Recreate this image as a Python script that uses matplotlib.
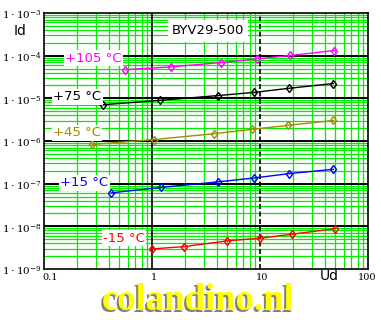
import matplotlib
matplotlib.use("Agg")
import matplotlib.pyplot as plt
import numpy as np

# Data (Ud in V, Id in A)
ud_105 = [0.56, 1.5, 4.35, 9.3, 19.1, 48.7]
id_105 = [4.7e-5, 5.45e-5, 6.9e-5, 8.4e-5, 1.01e-4, 1.32e-4]
ud_75 = [0.354, 1.19, 4.06, 8.86, 18.6, 47.7]
id_75 = [7.1e-6, 8.97e-6, 1.16e-5, 1.38e-5, 1.72e-5, 2.22e-5]
ud_45 = [0.28, 1.04, 3.75, 8.4, 18.0, 47.7]
id_45 = [8.3e-7, 1.08e-6, 1.48e-6, 1.87e-6, 2.32e-6, 3.03e-6]
ud_15 = [0.42, 1.22, 4.06, 8.86, 18.6, 47.7]
id_15 = [6.1e-8, 8.2e-8, 1.1e-7, 1.36e-7, 1.72e-7, 2.17e-7]
ud_m15 = [1.0, 1.99, 4.98, 10.1, 19.9, 49.8]
id_m15 = [2.96e-9, 3.35e-9, 4.56e-9, 5.28e-9, 6.55e-9, 8.87e-9]

series_labels = ["+105 °C", "+75 °C", "+45 °C", "+15 °C", "-15 °C"]
series_colors = ["#ff00ff", "#000000", "#a08c00", "#0000ff", "#ff0000"]

xtick_vals = [0.1, 1, 10, 100]
xtick_labels = ["0.1", "1", "10", "100"]
ytick_exps = [-3, -4, -5, -6, -7, -8, -9]

W, H = 381, 320
fig = plt.figure(figsize=(W / 100, H / 100), dpi=100)
fig.patch.set_facecolor("white")
ax = fig.add_axes([44 / W, 1 - 269 / H, (368 - 44) / W, (269 - 13) / H])
ax.set_xscale("log")
ax.set_yscale("log")
ax.set_xlim(0.1, 100)
ax.set_ylim(1e-9, 1e-3)

green = "#00ee00"
# minor grid
for d in [0.1, 1, 10]:
    for m in range(2, 10):
        ax.axvline(d * m, color=green, lw=0.9, zorder=1)
for e in range(-9, -3):
    for m in range(2, 10):
        ax.axhline(m * 10.0 ** e, color=green, lw=0.9, zorder=1)
# major grid
for e in range(-8, -3):
    ax.axhline(10.0 ** e, color="black", lw=1.4, zorder=2)
ax.axvline(1, color="black", lw=1.2, zorder=2)
ax.axvline(10, color="black", lw=1.2, ls=(0, (3, 1.5)), zorder=2)

for sp in ax.spines.values():
    sp.set_color("black")
    sp.set_linewidth(1.2)
    sp.set_zorder(5)

data = [(ud_105, id_105), (ud_75, id_75), (ud_45, id_45), (ud_15, id_15), (ud_m15, id_m15)]
for (x, y), c in zip(data, series_colors):
    ax.plot(x, y, color=c, lw=1.0, marker="d", ms=4.5, mfc="none", mec=c, mew=1.0, zorder=4)

ax.tick_params(which="both", length=0)
ax.set_xticks(xtick_vals)
ax.set_xticklabels([])
ax.set_yticks([10.0 ** e for e in ytick_exps])
ax.set_yticklabels([])
ax.minorticks_off()

bb = dict(facecolor="white", edgecolor="none", pad=1.0)
lab_pos = [(65, 58), (53, 97), (53, 133), (60, 183), (103, 238)]
for lab, c, (px, py) in zip(series_labels, series_colors, lab_pos):
    fig.text(px / W, 1 - py / H, lab, color=c, fontsize=9.5, ha="left", va="center",
             family="DejaVu Sans", bbox=bb, zorder=10)

fig.text(208 / W, 1 - 31 / H, "BYV29-500", fontsize=9.5, ha="center", va="center",
         family="DejaVu Sans", bbox=dict(facecolor="white", edgecolor="none", pad=3), zorder=10)
fig.text(20 / W, 1 - 31 / H, "Id", fontsize=10, ha="center", va="center", family="DejaVu Sans")
fig.text(329 / W, 1 - 276 / H, "Ud", fontsize=10, ha="center", va="center", family="DejaVu Sans")

# y tick labels
for e in ytick_exps:
    py = 269 - (e + 9) * (256 / 6)
    fig.text(2 / W, 1 - (py + 2) / H, r"$\mathregular{1\cdot10^{%d}}$" % e, fontsize=7.5,
             ha="left", va="center", family="DejaVu Serif")
# x tick labels
xpix = [50, 154, 262, 367]
for lab, px in zip(xtick_labels, xpix):
    fig.text(px / W, 1 - 278 / H, lab, fontsize=7, ha="center", va="center", family="DejaVu Serif")

# watermark
fig.text(198 / W - 1.5 / W, 1 - 301 / H - 1.5 / H, "colandino.nl", fontsize=26.5, weight="bold",
         family="Liberation Serif", color="#808080", ha="center", va="center")
fig.text(198 / W, 1 - 301 / H, "colandino.nl", fontsize=26.5, weight="bold",
         family="Liberation Serif", color="#ffff00", ha="center", va="center")

fig.savefig("out.png", dpi=100)
